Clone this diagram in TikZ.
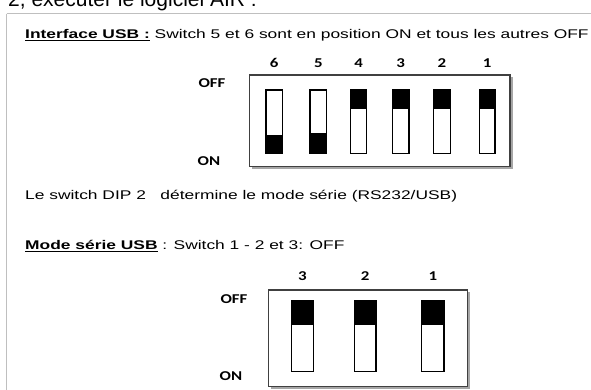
\documentclass[tikz,border=0pt]{standalone}
\usepackage{fontspec}
\setmainfont[FakeStretch=1.38]{Liberation Sans}
\newfontfamily\titlefont{Liberation Sans}
\newfontfamily\dipfont[FakeStretch=1.25]{Carlito}
\tikzset{
  txt/.style={anchor=base west, inner sep=0pt, font=\fontsize{12.6}{14}\selectfont},
  diplbl/.style={inner sep=0pt, font=\dipfont\bfseries\fontsize{13.5}{15}\selectfont},
  dipbox/.style={draw=black!75, line width=1.3pt, fill=white},
  dipshadow/.style={fill=black!35, draw=none},
  sw/.style={draw=black, line width=1.1pt, fill=white},
  knob/.style={fill=black, draw=black, line width=1.1pt},
  frame/.style={draw=black!25, line width=1.2pt}
}
\begin{document}
\begin{tikzpicture}[x=1pt,y=-1pt]
\useasboundingbox (0,0) rectangle (591,389);
\clip (0,0) rectangle (591,389);
\fill[white] (0,0) rectangle (591,389);
% heading cut at top
\node[anchor=base west, inner sep=0pt, font=\titlefont\fontsize{21}{24}\selectfont] (title) at (8,6.5) {2, exécuter le logiciel AIR :};
% frame
\draw[frame] (6.5,13.5) -- (600,13.5);
\draw[frame] (6.5,13.5) -- (6.5,400);
% texts
\node[txt] (t1) at (25,38.3) {\underline{\textbf{Interface USB :}} Switch 5 et 6 sont en position ON et tous les autres OFF};
\node[txt] (t2) at (25,199) {Le switch DIP 2\ \ \ détermine le mode série (RS232/USB)};
\node[txt] (t3) at (25,249.3) {\underline{\textbf{Mode série USB}} : Switch 1 - 2 et 3: OFF};
% upper DIP
\fill[dipshadow] (251.5,77) rectangle (512.5,169);
\draw[dipbox] (249.3,75) rectangle (510,166.7);
\node[diplbl] (off1) at (212,83) {OFF};
\node[diplbl] (on1) at (209,161.5) {ON};
\foreach \n/\xa/\xb in {6/266/282.3, 5/310/326.7, 4/350.7/366.7, 3/392.3/409, 2/433.3/450.7, 1/479.3/495}{
  \node[diplbl] (n1\n) at ({(\xa+\xb)/2},63) {\n};
  \draw[sw] (\xa,90) rectangle (\xb,153.3);
}
\draw[knob] (266,135.7) rectangle (282.3,153.3);
\draw[knob] (310,134) rectangle (326.7,153.3);
\draw[knob] (350.7,90) rectangle (366.7,108.3);
\draw[knob] (392.3,90) rectangle (409,108.3);
\draw[knob] (433.3,90) rectangle (450.7,108.3);
\draw[knob] (479.3,90) rectangle (495,108.3);
% lower DIP
\fill[dipshadow] (270.5,292) rectangle (470,389);
\draw[dipbox] (268.3,290) rectangle (467.7,386.7);
\node[diplbl] (off2) at (234,299.5) {OFF};
\node[diplbl] (on2) at (231,376.5) {ON};
\foreach \n/\xa/\xb in {3/291.7/313.3, 2/354.3/376, 1/421.7/444}{
  \node[diplbl] (n2\n) at ({(\xa+\xb)/2},276) {\n};
  \draw[sw] (\xa,300.7) rectangle (\xb,371.7);
  \draw[knob] (\xa,300.7) rectangle (\xb,324.3);
}
\end{tikzpicture}
\end{document}
